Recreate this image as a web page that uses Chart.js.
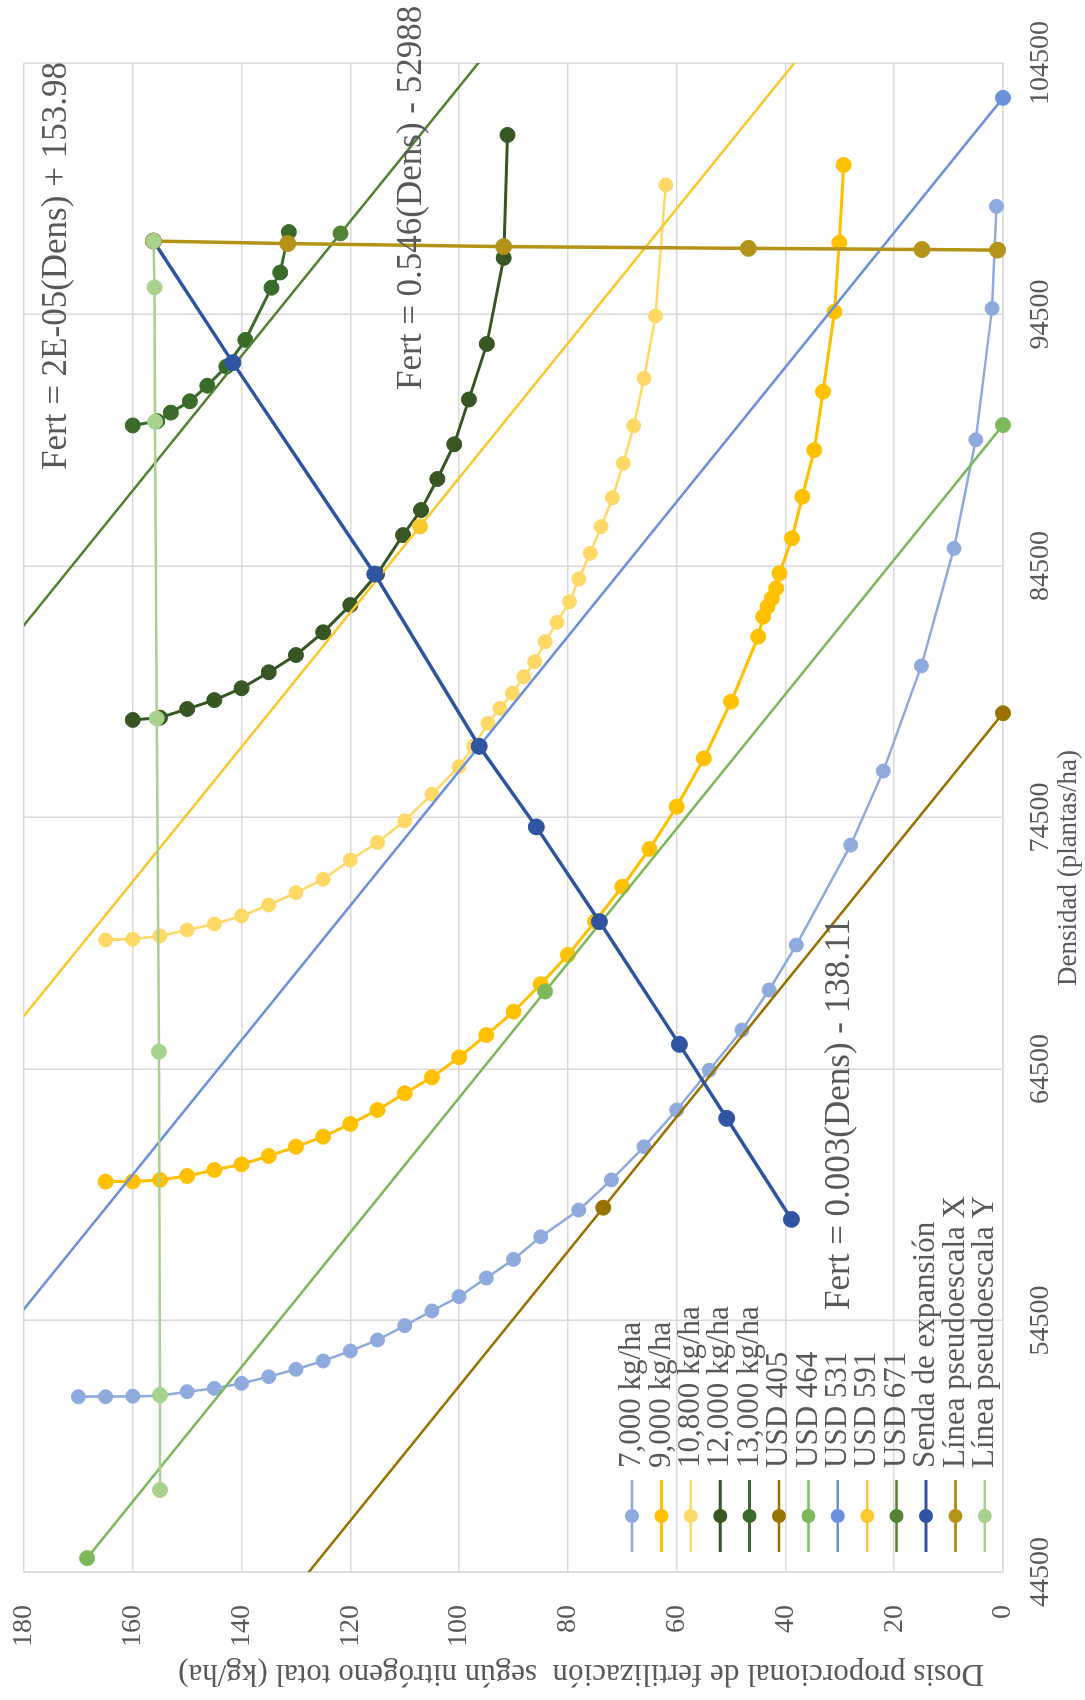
<!DOCTYPE html>
<html lang="es">
<head>
  <meta charset="UTF-8" />
  <title>Isocuantas, isocostos y senda de expansión</title>
  <script src="https://cdn.jsdelivr.net/npm/chart.js"></script>
  <style>
    html, body { margin: 0; padding: 0; background: #fff; overflow: hidden; }
    body { width: 1085px; height: 1700px; position: relative; }
    /* chart is laid out landscape, then turned a quarter turn to the left */
    .chart-box {
      position: absolute; left: 0; top: 0;
      width: 1700px; height: 1085px;
      transform-origin: 0 0;
      transform: translateY(1700px) rotate(-90deg);
    }
  </style>
</head>
<body>
  <div class="chart-box"><canvas id="isoChart"></canvas></div>

  <script>
    // axis ticks
    const densTicks = [44500, 54500, 64500, 74500, 84500, 94500, 104500];
    const fertTicks = [0, 20, 40, 60, 80, 100, 120, 140, 160, 180];

    // isoquants (Dens, Fert)
    const dens7000 = [51470, 51470, 51490, 51510, 51670, 51800, 52000, 52265, 52560, 52890, 53290, 53725, 54295, 54880, 55450, 56190, 56930, 57830, 58890, 60090, 61410, 62870, 64450, 66050, 67640, 69430, 73400, 76350, 80530, 85200, 89520, 94740, 98800];
    const fert7000 = [170, 165, 160, 155, 150, 145, 140, 135, 130, 125, 120, 115, 110, 105, 100, 95, 90, 85, 78, 72, 66, 60, 54, 48, 43, 38, 28, 22, 15, 9, 5, 2, 1.2];

    const dens9000 = [60020, 60030, 60090, 60245, 60485, 60710, 61040, 61410, 61810, 62315, 62870, 63535, 64170, 64965, 65850, 66780, 67870, 69035, 70370, 71750, 73250, 74930, 76850, 79105, 81690, 82485, 82880, 83215, 83615, 84210, 85600, 87255, 89110, 91430, 94610, 97355, 100445];
    const fert9000 = [165, 160, 155, 150, 145, 140, 135, 130, 125, 120, 115, 110, 105, 100, 95, 90, 85, 80, 75, 70, 65, 60, 55, 50, 45, 44.1, 43.3, 42.5, 41.7, 41.1, 38.8, 36.9, 34.7, 33.1, 31.0, 30.1, 29.3];

    const dens10800 = [69630, 69660, 69790, 70025, 70265, 70585, 71020, 71510, 72045, 72810, 73510, 74370, 75430, 76520, 77340, 78245, 78840, 79440, 80100, 80695, 81490, 82260, 83080, 83985, 85005, 86065, 87215, 88585, 90075, 91960, 94440, 99650];
    const fert10800 = [165, 160, 155, 150, 145, 140, 135, 130, 125, 120, 115, 110, 105, 100, 97.3, 94.7, 92.5, 90.2, 88.1, 86.1, 84.2, 82.0, 79.7, 78.0, 75.9, 73.9, 71.8, 69.8, 67.9, 66.0, 63.9, 62.0];

    const dens12000 = [78380, 78470, 78815, 79170, 79640, 80275, 80960, 81865, 82950, 84170, 85730, 86725, 87960, 89340, 91120, 93330, 96750, 101640];
    const fert12000 = [160, 155, 150, 145, 140, 135, 130, 125, 120, 115.1, 110.3, 107.0, 104.0, 100.9, 98.2, 94.9, 91.8, 91.1];

    const dens13000 = [90090, 90260, 90600, 91050, 91670, 92430, 93490, 95565, 96170, 97780];
    const fert13000 = [160, 155.5, 153.0, 149.5, 146.3, 142.8, 139.3, 134.5, 132.9, 131.3];

    // isocost lines
    const densUsd405 = [39320, 58985, 78647];
    const fertUsd405 = [147.0, 73.5, 0];
    const densUsd464 = [45050, 67580, 90105];
    const fertUsd464 = [168.4, 84.2, 0];
    const densUsd531 = [51560, 77335, 103115];
    const fertUsd531 = [192.7, 96.3, 0];
    const densUsd591 = [57385, 86075, 114765];
    const fertUsd591 = [214.5, 107.2, 0];
    const densUsd671 = [65150, 97725, 130300];
    const fertUsd671 = [243.5, 121.8, 0];

    // expansion path and pseudo-scale lines
    const densSenda = [97420, 92585, 84180, 77330, 74125, 70360, 65480, 62540, 58520];
    const fertSenda = [156.2, 141.6, 115.5, 96.3, 85.8, 74.2, 59.5, 50.8, 38.9];
    const densPseudoX = [97420, 97320, 97200, 97130, 97085, 97060];
    const fertPseudoX = [156.2, 131.5, 91.8, 46.8, 14.9, 1.0];
    const densPseudoY = [97420, 95580, 90240, 78440, 65190, 51540, 47760];
    const fertPseudoY = [156.2, 156.0, 155.9, 155.6, 155.2, 155.0, 155.0];

    const equations = [
      'Fert = 2E-05(Dens) + 153.98',
      'Fert = 0.546(Dens) - 52988',
      'Fert = 0.003(Dens) - 138.11'
    ];

    const pts = (d, f) => d.map((v, i) => ({ x: v, y: f[i] }));

    const series = [
      { label: '7,000 kg/ha',  data: pts(dens7000, fert7000),   color: '#8FAADC', w: 2.5, r: 7 },
      { label: '9,000 kg/ha',  data: pts(dens9000, fert9000),   color: '#FFC000', w: 3,   r: 7.5 },
      { label: '10,800 kg/ha', data: pts(dens10800, fert10800), color: '#FFD966', w: 2.5, r: 7 },
      { label: '12,000 kg/ha', data: pts(dens12000, fert12000), color: '#375623', w: 3,   r: 7.5 },
      { label: '13,000 kg/ha', data: pts(dens13000, fert13000), color: '#3B6B2A', w: 3,   r: 7.5 },
      { label: 'USD 405', data: pts(densUsd405, fertUsd405), color: '#997300', w: 2.5, r: 7.5 },
      { label: 'USD 464', data: pts(densUsd464, fertUsd464), color: '#7DB85C', w: 2.5, r: 7.5 },
      { label: 'USD 531', data: pts(densUsd531, fertUsd531), color: '#6A91D9', w: 2.5, r: 7.5 },
      { label: 'USD 591', data: pts(densUsd591, fertUsd591), color: '#F9C92E', w: 2.5, r: 7.5 },
      { label: 'USD 671', data: pts(densUsd671, fertUsd671), color: '#548235', w: 2.5, r: 7.5 },
      { label: 'Senda de expansión', data: pts(densSenda, fertSenda), color: '#2F55A0', w: 3.5, r: 8 },
      { label: 'Línea pseudoescala X', data: pts(densPseudoX, fertPseudoX), color: '#B39419', w: 3.5, r: 8 },
      { label: 'Línea pseudoescala Y', data: pts(densPseudoY, fertPseudoY), color: '#A9D18E', w: 2.5, r: 7.5 }
    ];

    const serif = '"Liberation Serif", "Times New Roman", serif';
    const textGray = '#595959';
    Chart.defaults.font.family = serif;
    Chart.defaults.color = textGray;

    // legend inside the plot, axis titles and trendline equations
    const notesPlugin = {
      id: 'notes',
      afterDraw(chart) {
        const ctx = chart.ctx;
        ctx.save();
        ctx.textBaseline = 'middle';

        chart.data.datasets.forEach((ds, i) => {
          const y = 632 + i * 29.4;
          ctx.strokeStyle = ds.borderColor;
          ctx.lineWidth = Math.min(ds.borderWidth, 3);
          ctx.beginPath();
          ctx.moveTo(148, y);
          ctx.lineTo(220, y);
          ctx.stroke();
          ctx.fillStyle = ds.pointBackgroundColor;
          ctx.beginPath();
          ctx.arc(184, y, 7, 0, Math.PI * 2);
          ctx.fill();
          ctx.fillStyle = textGray;
          ctx.font = '31px ' + serif;
          ctx.textAlign = 'left';
          ctx.fillText(ds.label, 232, y);
        });

        ctx.fillStyle = textGray;
        ctx.font = '35px ' + serif;
        ctx.textAlign = 'left';
        ctx.fillText(equations[0], 1230, 57);
        ctx.fillText(equations[1], 1310, 412);
        ctx.fillText(equations[2], 390, 840);

        ctx.textAlign = 'center';
        ctx.font = '27px ' + serif;
        ctx.fillText('Densidad (plantas/ha)', 832, 1069);

        ctx.font = '31px ' + serif;
        ctx.translate(27, 581);
        ctx.rotate(-Math.PI / 2);
        ctx.fillText('Dosis proporcional de fertilización  según nitrógeno total (kg/ha)', 0, 0);
        ctx.restore();
      }
    };

    const ctx = document.getElementById('isoChart').getContext('2d');
    const isoChart = new Chart(ctx, {
      type: 'scatter',
      data: {
        datasets: series.map((s, i) => ({
          label: s.label,
          data: s.data,
          showLine: true,
          tension: 0,
          borderColor: s.color,
          backgroundColor: s.color,
          pointBackgroundColor: s.color,
          pointBorderColor: s.color,
          borderWidth: s.w,
          pointRadius: s.r,
          pointBorderWidth: 1,
          clip: { left: 0, top: 0, right: 0, bottom: 10 },
          order: -i
        }))
      },
      options: {
        responsive: true,
        maintainAspectRatio: false,
        animation: false,
        layout: { padding: { left: 0, right: 63, top: 24, bottom: 0 } },
        plugins: {
          legend: { display: false },
          tooltip: { enabled: false }
        },
        scales: {
          x: {
            type: 'linear',
            position: 'bottom',
            min: 44500,
            max: 104500,
            afterBuildTicks: s => { s.ticks = densTicks.map(v => ({ value: v })); },
            afterFit: s => { s.height = 82; },
            ticks: {
              callback: v => String(v),
              font: { size: 28 },
              color: textGray,
              padding: 21,
              maxRotation: 0,
              autoSkip: false
            },
            grid: { color: '#D9D9D9', lineWidth: 1.5, drawTicks: false },
            border: { color: '#D9D9D9', width: 1.5 }
          },
          y: {
            min: 0,
            max: 180,
            afterBuildTicks: s => { s.ticks = fertTicks.map(v => ({ value: v })); },
            // label padding would otherwise be added above the plot
            afterFit: s => { s.width = 128; s.paddingTop = 0; s.paddingBottom = 0; },
            ticks: {
              font: { size: 28 },
              color: textGray,
              padding: 33
            },
            grid: { color: '#D9D9D9', lineWidth: 1.5, drawTicks: false },
            border: { color: '#D9D9D9', width: 1.5 }
          }
        }
      },
      plugins: [notesPlugin]
    });
  </script>
</body>
</html>
